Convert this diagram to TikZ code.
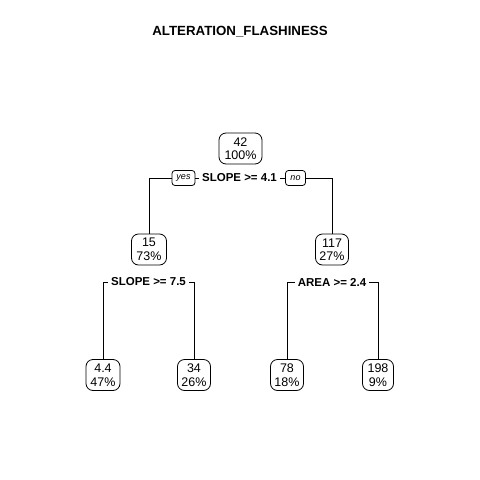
\documentclass[tikz,border=0pt]{standalone}
\usepackage{fontspec}
\setmainfont{Liberation Sans}
\usepackage{tikz}
\tikzset{
    treebox/.style={draw, line width=0.8pt, rounded corners=7pt, align=center, inner xsep=3.5pt, inner ysep=2pt,
        minimum width=31pt, minimum height=31pt, font=\fontsize{12.5}{13.5}\selectfont},
    splitlabel/.style={inner xsep=3pt, inner ysep=1pt, font=\fontsize{11.5}{13}\selectfont\bfseries},
    answer/.style={draw, line width=0.8pt, rounded corners=3pt, inner sep=1pt, minimum height=15pt,
        font=\fontsize{9}{10}\selectfont\itshape},
    branch/.style={line width=0.9pt}
}

\begin{document}
\begin{tikzpicture}[x=1pt, y=-1pt]
    \useasboundingbox (0,0) rectangle (480,480);
    \node[font=\fontsize{13.3}{15}\selectfont\bfseries] (title) at (240,32) {ALTERATION\_FLASHINESS};
    % boxes
    \node[treebox, minimum width=43pt] (root) at (240.5,148.5) {42\\100\%};
    \node[treebox, minimum width=35pt] (n15) at (149,249.5) {15\\73\%};
    \node[treebox, minimum width=33pt] (n117) at (332,249.5) {117\\27\%};
    \node[treebox, minimum width=34pt] (n44) at (103,375) {4.4\\47\%};
    \node[treebox, minimum width=33pt] (n34) at (194,375) {34\\26\%};
    \node[treebox, minimum width=33pt] (n78) at (287,375) {78\\18\%};
    \node[treebox, minimum width=31pt] (n198) at (378,375) {198\\9\%};
    % splits
    \node[splitlabel] (sroot) at (239.5,178) {SLOPE >= 4.1};
    \node[answer, minimum width=23pt] (yes) at (183.5,178) {yes};
    \node[answer, minimum width=20pt] (no) at (295.5,178) {no};
    \node[splitlabel] (s15) at (148.5,282) {SLOPE >= 7.5};
    \node[splitlabel] (s117) at (332,282) {AREA >= 2.4};
    % branches
    \draw[branch] (sroot.west) -- (yes.east);
    \draw[branch] (yes.west) -| (n15.north);
    \draw[branch] (sroot.east) -- (no.west);
    \draw[branch] (no.east) -| (n117.north);
    \draw[branch] (s15.west) -| (n44.north);
    \draw[branch] (s15.east) -| (n34.north);
    \draw[branch] (s117.west) -| (n78.north);
    \draw[branch] (s117.east) -| (n198.north);
\end{tikzpicture}
\end{document}
